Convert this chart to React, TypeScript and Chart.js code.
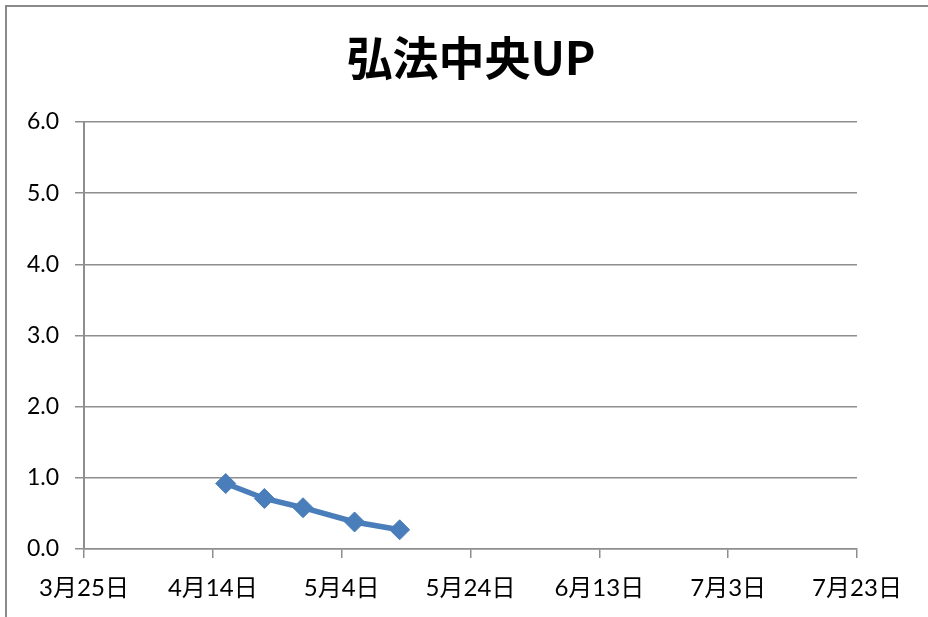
import React, { useEffect, useRef } from "react";
import { Chart, registerables } from "chart.js";

Chart.register(...registerables);

const title = "弘法中央UP";
const pointDates = ["4/16", "4/22", "4/28", "5/6", "5/13"];
const pointValues = [0.92, 0.71, 0.58, 0.38, 0.27];
const axisStartDate = "3/25";
const xTickStepDays = 20;
const xTickCount = 7;
const yTicksMin = 0;
const yTicksMax = 6;

const YEAR = 2013;
const toDay = (s: string) => {
  const [m, d] = s.split("/").map(Number);
  return Date.UTC(YEAR, m - 1, d) / 86400000;
};
const baseDay = toDay(axisStartDate);
const dayLabel = (offset: number) => {
  const dt = new Date((baseDay + offset) * 86400000);
  return `${dt.getUTCMonth() + 1}月${dt.getUTCDate()}日`;
};

const FONT = 'Lato, "Noto Sans CJK JP", sans-serif';
const GRID = "#8e8e8e";

export default function App() {
  const ref = useRef<HTMLCanvasElement | null>(null);
  useEffect(() => {
    if (!ref.current) return;
    const decor = {
      id: "decor",
      beforeDraw(chart: any) {
        const c = chart.ctx;
        c.save();
        c.fillStyle = "#ffffff";
        c.fillRect(0, 0, chart.width, chart.height);
        c.strokeStyle = "#8a8a8a";
        c.lineWidth = 2;
        c.beginPath();
        c.moveTo(6, chart.height + 5);
        c.lineTo(6, 6);
        c.lineTo(chart.width + 5, 6);
        c.stroke();
        c.restore();
      },
      afterDraw(chart: any) {
        const c = chart.ctx;
        c.save();
        c.fillStyle = "#000000";
        c.font = 'bold 46px "Noto Sans CJK JP", sans-serif';
        c.textAlign = "center";
        c.textBaseline = "middle";
        c.fillText(title, 471, 58);
        c.restore();
      },
    };
    const chart = new Chart(ref.current, {
      type: "line",
      data: {
        datasets: [
          {
            data: pointDates.map((d, i) => ({ x: toDay(d) - baseDay, y: pointValues[i] })),
            borderColor: "#4a7ebb",
            backgroundColor: "#4a7ebb",
            borderWidth: 5.5,
            pointStyle: "rectRot",
            pointRadius: 10,
            pointBorderWidth: 1,
            pointBorderColor: "#4a7ebb",
            pointBackgroundColor: "#4a7ebb",
            tension: 0,
          },
        ],
      },
      options: {
        animation: false,
        responsive: false,
        maintainAspectRatio: false,
        layout: { padding: { top: 122, right: 71, left: 0, bottom: 0 } },
        plugins: {
          legend: { display: false },
          title: { display: false },
          tooltip: { enabled: false },
        },
        scales: {
          x: {
            type: "linear",
            min: 0,
            max: xTickStepDays * (xTickCount - 1),
            afterFit: (s: any) => {
              s.height = 68;
            },
            ticks: {
              stepSize: xTickStepDays,
              autoSkip: false,
              maxRotation: 0,
              padding: 16,
              color: "#000",
              font: { family: FONT, size: 24 },
              callback: (v: any) => dayLabel(Number(v)),
            },
            grid: {
              drawOnChartArea: false,
              drawTicks: true,
              tickLength: 9,
              color: GRID,
              lineWidth: 1.5,
            },
            border: { display: true, color: GRID, width: 1.5 },
          },
          y: {
            min: yTicksMin,
            max: yTicksMax,
            afterFit: (s: any) => {
              s.width = 84;
            },
            ticks: {
              stepSize: 1,
              padding: 16,
              color: "#000",
              font: { family: FONT, size: 23 },
              callback: (v: any) => Number(v).toFixed(1),
            },
            grid: {
              drawOnChartArea: true,
              drawTicks: true,
              tickLength: 9,
              color: GRID,
              lineWidth: 1.5,
            },
            border: { display: true, color: GRID, width: 2 },
          },
        },
      },
      plugins: [decor],
    } as any);
    return () => chart.destroy();
  }, []);
  return (
    <div style={{ position: "absolute", left: 0, top: 0, width: 928, height: 617 }}>
      <canvas ref={ref} width={928} height={617} style={{ width: 928, height: 617, display: "block" }} />
    </div>
  );
}
